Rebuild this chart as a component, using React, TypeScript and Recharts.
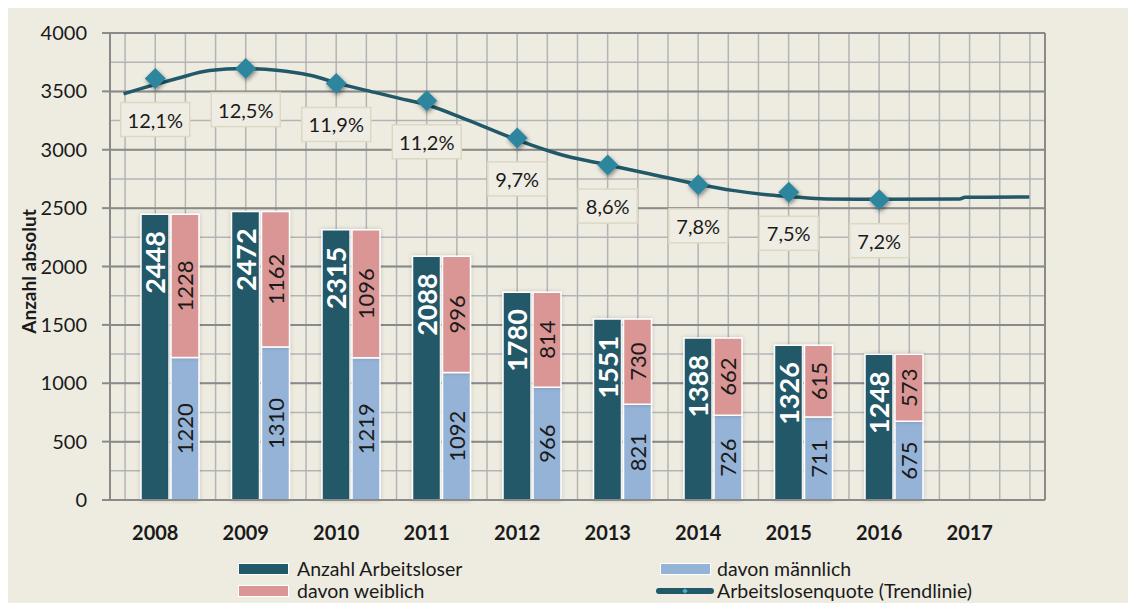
import {
  ComposedChart, Bar, Line, XAxis, YAxis, CartesianGrid, Legend, LabelList,
} from 'recharts'

const YEARS = ['2008', '2009', '2010', '2011', '2012', '2013', '2014', '2015', '2016', '2017']
const TOTAL = [2448, 2472, 2315, 2088, 1780, 1551, 1388, 1326, 1248, null]
const MALE = [1220, 1310, 1219, 1092, 966, 821, 726, 711, 675, null]
const FEMALE = [1228, 1162, 1096, 996, 814, 730, 662, 615, 573, null]
const RATE = [12.1, 12.5, 11.9, 11.2, 9.7, 8.6, 7.8, 7.5, 7.2, null]

// trend line (x in years, y on the left axis)
const TREND_X = [2007.65, 2007.87, 2008.24, 2008.6, 2008.97, 2009.34, 2009.71, 2010.07, 2010.45, 2010.7,
  2011.0, 2011.44, 2011.99, 2012.55, 2012.99, 2013.47, 2013.99, 2014.38, 2014.76, 2014.99,
  2015.42, 2016.0, 2016.89, 2016.95, 2017.66]
const TREND_Y = [3479, 3530, 3610, 3678, 3695, 3681, 3638, 3558, 3487, 3440,
  3385, 3258, 3087, 2944, 2872, 2793, 2707, 2652, 2615, 2601,
  2578, 2576, 2578, 2593, 2595]

const Y_TICKS = [0, 500, 1000, 1500, 2000, 2500, 3000, 3500, 4000]
const MINOR_TICKS = Array.from({ length: 17 }, (_, i) => i * 250)
const TREND_DOMAIN = [2007.5, 2017 + 5 / 6]
const V_GRID = Array.from({ length: 31 }, (_, i) => 2007 + 2 / 3 + i / 3)

const DARK = '#215968'
const PINK = '#D99694'
const BLUE = '#95B3D7'
const BG = '#EEECE1'
const TEXT = '#1a1a1a'
const FONT = 'Lato, "Open Sans", sans-serif'

const data = YEARS.map((year, i) => ({
  year, total: TOTAL[i], male: MALE[i], female: FEMALE[i], rate: RATE[i],
}))
const trendData = TREND_X.map((x, i) => ({ x, y: TREND_Y[i] }))

// grid lines go through the axes' own scales
function vGrid(props: any) {
  const s = props?.xAxis?.scale
  if (typeof s === 'function') return V_GRID.map(v => s(v))
  const o = props.offset
  return V_GRID.map(v => o.left + (v - TREND_DOMAIN[0]) / (TREND_DOMAIN[1] - TREND_DOMAIN[0]) * o.width)
}
function hGrid(props: any) {
  const s = props?.yAxis?.scale
  if (typeof s === 'function') return MINOR_TICKS.map(v => s(v))
  const o = props.offset
  return MINOR_TICKS.map(v => o.top + o.height * (1 - v / 4000))
}

function TotalLabel(p: any) {
  if (p.value == null) return null
  const cx = p.x + p.width / 2
  const ty = p.y + 17
  return (
    <text x={cx} y={ty} transform={`rotate(-90 ${cx} ${ty})`} textAnchor="end"
          dominantBaseline="central" fill="#fff" fontWeight={700} fontSize={27}
          fontFamily={FONT}>{p.value}</text>
  )
}

function PartLabel(p: any) {
  if (p.value == null) return null
  const cx = p.x + p.width / 2
  const cy = p.y + p.height / 2
  return (
    <text x={cx} y={cy} transform={`rotate(-90 ${cx} ${cy})`} textAnchor="middle"
          dominantBaseline="central" fill={TEXT} fontSize={22}
          fontFamily={FONT}>{p.value}</text>
  )
}

function RateLabel(p: any) {
  if (p.value == null) return null
  const txt = Number(p.value).toFixed(1).replace('.', ',') + '%'
  const w = txt.length * 10 + 19
  return (
    <g>
      <rect x={p.x - w / 2} y={p.y + 24} width={w} height={34}
            fill="#EFEDE3" stroke="#DCD8C2" strokeWidth={1.5} />
      <text x={p.x} y={p.y + 41} textAnchor="middle" dominantBaseline="central"
            fontSize={20} fill={TEXT} fontFamily={FONT}>{txt}</text>
    </g>
  )
}

function Diamond(p: any) {
  const { cx, cy } = p
  if (cy == null || isNaN(cy)) return null
  const r = 10.5
  return (
    <polygon key={p.key} filter="url(#dshadow)" fill="#2E869E"
             points={`${cx},${cy - r} ${cx + r},${cy} ${cx},${cy + r} ${cx - r},${cy}`} />
  )
}

function YearTick(p: any) {
  return (
    <text x={p.x} y={p.y + 32} textAnchor="middle" dominantBaseline="central"
          fontWeight={700} fontSize={20} fill={TEXT} fontFamily={FONT}>
      {p.payload.value}
    </text>
  )
}

function AxisTitle(p: any) {
  const vb = p.viewBox
  const x = vb.x + 21
  const y = vb.y + vb.height / 2 + 5
  return (
    <text x={x} y={y} transform={`rotate(-90 ${x} ${y})`} textAnchor="middle"
          dominantBaseline="central" fontWeight={700} fontSize={19} fill={TEXT}
          fontFamily={FONT}>Anzahl absolut</text>
  )
}

function Swatch({ left, top, color }: { left: number, top: number, color: string }) {
  return (
    <div style={{
      position: 'absolute', left, top, width: 49, height: 10,
      background: color, border: '1.5px solid #fff',
    }} />
  )
}

function LegendText({ left, top, children }: { left: number, top: number, children: string }) {
  return (
    <div style={{
      position: 'absolute', left, top, height: 22, lineHeight: '22px',
      fontSize: 19.5, color: TEXT, fontFamily: FONT, whiteSpace: 'nowrap',
    }}>{children}</div>
  )
}

function LegendContent() {
  return (
    <div style={{ position: 'relative', height: 48, width: 1039 }}>
      <Swatch left={231} top={8} color={DARK} />
      <LegendText left={290} top={3}>Anzahl Arbeitsloser</LegendText>
      <Swatch left={231} top={30} color={PINK} />
      <LegendText left={290} top={25}>davon weiblich</LegendText>
      <Swatch left={653} top={8} color={BLUE} />
      <LegendText left={710} top={3}>davon männlich</LegendText>
      <div style={{
        position: 'absolute', left: 649, top: 33, width: 58, height: 6,
        borderRadius: 3, background: DARK,
      }} />
      <div style={{
        position: 'absolute', left: 676, top: 34, width: 4, height: 4,
        background: '#4BACC6', transform: 'rotate(45deg)',
      }} />
      <LegendText left={710} top={25}>Arbeitslosenquote (Trendlinie)</LegendText>
    </div>
  )
}

export default function App() {
  return (
    <div style={{ margin: '-2px 0 0 -1px', width: 1129, height: 597, background: BG, fontFamily: FONT }}>
      <ComposedChart width={1129} height={597} data={data}
                     margin={{ top: 27, right: 90, bottom: 0, left: 0 }}
                     barSize={28} barGap={2}>
        <defs>
          <filter id="dshadow" x="-60%" y="-60%" width="220%" height="220%">
            <feDropShadow dx="1" dy="2" stdDeviation="2" floodColor="#000" floodOpacity="0.45" />
          </filter>
          <filter id="bshadow" x="-30%" y="-10%" width="160%" height="120%">
            <feDropShadow dx="0" dy="0" stdDeviation="2" floodColor="#000" floodOpacity="0.18" />
          </filter>
        </defs>

        <XAxis xAxisId="years" dataKey="year" padding={{ left: 0, right: 30 }} height={55}
               interval={0} tickLine={false} tickSize={0} tickMargin={0} tick={<YearTick />}
               axisLine={{ stroke: '#8a8a8a', strokeWidth: 2 }} />
        <XAxis xAxisId="trend" type="number" dataKey="x" domain={TREND_DOMAIN}
               allowDataOverflow hide height={0} />
        <XAxis xAxisId="bars" dataKey="year" padding={{ left: 15, right: 15 }} hide height={0} />

        <YAxis yAxisId="left" domain={[0, 4000]} ticks={Y_TICKS} width={103}
               tickSize={8} tickMargin={15} interval={0}
               tick={{ fontSize: 20, fill: TEXT, fontFamily: FONT }}
               tickLine={{ stroke: '#8a8a8a', strokeWidth: 2 }}
               axisLine={{ stroke: '#8a8a8a', strokeWidth: 2 }}
               label={<AxisTitle />} />
        <YAxis yAxisId="pct" orientation="right" domain={[-4.94, 13.94]} width={1}
               tick={false} tickLine={false}
               axisLine={{ stroke: '#8a8a8a', strokeWidth: 2 }} />

        <CartesianGrid xAxisId="trend" yAxisId="left" stroke="#b4b4b4" strokeWidth={1.5}
                       verticalCoordinatesGenerator={vGrid}
                       horizontalCoordinatesGenerator={hGrid} />
        <CartesianGrid xAxisId="trend" yAxisId="left" vertical={false} stroke="#8a8a8a" strokeWidth={2} />

        <Bar xAxisId="bars" yAxisId="left" dataKey="total" stackId="t" name="Anzahl Arbeitsloser"
             fill={DARK} stroke="#fff" strokeWidth={1.5} filter="url(#bshadow)" isAnimationActive={false}>
          <LabelList dataKey="total" content={<TotalLabel />} />
        </Bar>
        <Bar xAxisId="bars" yAxisId="left" dataKey="male" stackId="s" name="davon männlich"
             fill={BLUE} stroke="#fff" strokeWidth={1.5} filter="url(#bshadow)" isAnimationActive={false}>
          <LabelList dataKey="male" content={<PartLabel />} />
        </Bar>
        <Bar xAxisId="bars" yAxisId="left" dataKey="female" stackId="s" name="davon weiblich"
             fill={PINK} stroke="#fff" strokeWidth={1.5} filter="url(#bshadow)" isAnimationActive={false}>
          <LabelList dataKey="female" content={<PartLabel />} />
        </Bar>

        <Line xAxisId="years" yAxisId="pct" dataKey="rate" stroke="none" dot={<Diamond />}
              activeDot={false} isAnimationActive={false}>
          <LabelList dataKey="rate" content={<RateLabel />} />
        </Line>
        <Line xAxisId="trend" yAxisId="left" data={trendData} dataKey="y" type="monotone"
              stroke={DARK} strokeWidth={3.5} dot={false} activeDot={false} isAnimationActive={false} />

        <Legend verticalAlign="bottom" content={<LegendContent />} />
      </ComposedChart>
    </div>
  )
}
